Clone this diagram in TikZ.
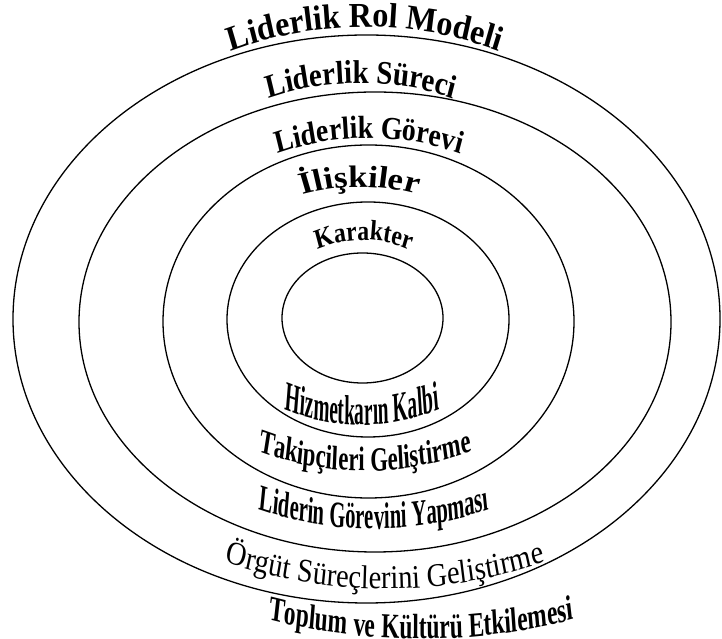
\documentclass[tikz,border=0pt]{standalone}
\usepackage{fontspec}
\setmainfont{Liberation Serif}
\usetikzlibrary{shapes.geometric, decorations.text}

\begin{document}
\begin{tikzpicture}[
  x=1pt, y=1pt,
  ring/.style={draw, ellipse, line width=1.3pt, inner sep=0pt, outer sep=0pt},
  arctext/.style={decorate, decoration={text along path, text align=center, text={#1}}}
]
\useasboundingbox (0,0) rectangle (722,639);

\node[ring, minimum width=707, minimum height=568] (model) at (366.5,320) {};
\node[ring, minimum width=592, minimum height=460] (surec) at (375,317) {};
\node[ring, minimum width=411, minimum height=353] (gorev) at (368.5,317.5) {};
\node[ring, minimum width=282, minimum height=235] (iliski) at (368,319.5) {};
\node[ring, minimum width=161, minimum height=130] (kalp) at (362.5,321) {};

\begin{scope}[transform canvas={xscale=0.92}]
\path[arctext={|\bfseries\fontsize{35}{35}\selectfont|Liderlik Rol Modeli}]
  ([shift={(121:413 and 380)}]396.7,232) arc[start angle=121, end angle=59, x radius=413, y radius=380];
\end{scope}
\begin{scope}[transform canvas={xscale=0.88}]
\path[arctext={|\bfseries\fontsize{33}{33}\selectfont|Liderlik Süreci}]
  ([shift={(119:318.2 and 280)}]410.2,276) arc[start angle=119, end angle=61, x radius=318.2, y radius=280];
\end{scope}
\begin{scope}[transform canvas={xscale=0.87}]
\path[arctext={|\bfseries\fontsize{32}{32}\selectfont|Liderlik Görevi}]
  ([shift={(120:310.3 and 270)}]424.1,231) arc[start angle=120, end angle=60, x radius=310.3, y radius=270];
\end{scope}
\begin{scope}[transform canvas={xscale=1.12}]
\path[arctext={|\bfseries\fontsize{31}{31}\selectfont|İlişkiler}]
  ([shift={(113:196.4 and 220)}]321.4,232) arc[start angle=113, end angle=67, x radius=196.4, y radius=220];
\end{scope}
\begin{scope}[transform canvas={xscale=0.85}]
\path[arctext={|\bfseries\fontsize{28}{28}\selectfont|Karakter}]
  ([shift={(126:129.4 and 110)}]428.2,289) arc[start angle=126, end angle=54, x radius=129.4, y radius=110];
\end{scope}

\begin{scope}[transform canvas={xscale=0.46}]
\path[arctext={|\bfseries\fontsize{42}{42}\selectfont|Hizmetkarın Kalbi}]
  ([shift={(236:434.8 and 200)}]787,414) arc[start angle=236, end angle=304, x radius=434.8, y radius=200];
\end{scope}
\begin{scope}[transform canvas={xscale=0.67}]
\path[arctext={|\bfseries\fontsize{34}{34}\selectfont|Takipçileri Geliştirme}]
  ([shift={(240:447.8 and 300)}]544.8,468) arc[start angle=240, end angle=300, x radius=447.8, y radius=300];
\end{scope}
\begin{scope}[transform canvas={xscale=0.556}]
\path[arctext={|\bfseries\fontsize{37}{37}\selectfont|Liderin Görevini Yapması}]
  ([shift={(241:629.5 and 350)}]672.7,460) arc[start angle=241, end angle=299, x radius=629.5, y radius=350];
\end{scope}
\begin{scope}[transform canvas={xscale=0.86}]
\path[arctext={|\fontsize{33}{33}\selectfont|Örgüt Süreçlerini Geliştirme}]
  ([shift={(241:558.1 and 480)}]447.7,530) arc[start angle=241, end angle=299, x radius=558.1, y radius=480];
\end{scope}
\begin{scope}[transform canvas={xscale=0.67}]
\path[arctext={|\bfseries\fontsize{35}{35}\selectfont|Toplum ve Kültürü Etkilemesi}]
  ([shift={(248:895.5 and 600)}]628.4,600) arc[start angle=248, end angle=292, x radius=895.5, y radius=600];
\end{scope}
\end{tikzpicture}
\end{document}
